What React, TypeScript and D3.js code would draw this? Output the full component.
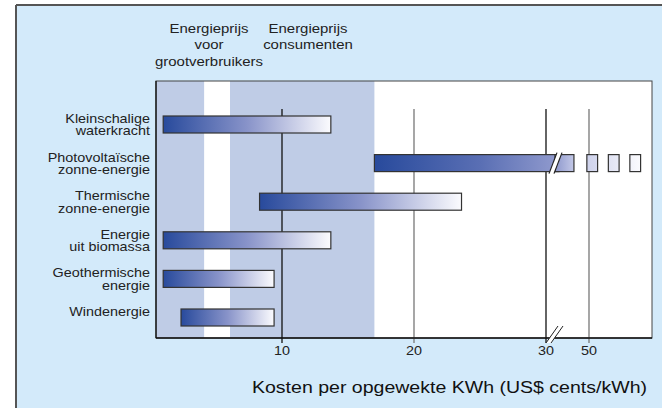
import React from "react";
import * as d3 from "d3";

const labelLines: string[][] = [
  ["Kleinschalige", "waterkracht"],
  ["Photovoltaïsche", "zonne-energie"],
  ["Thermische", "zonne-energie"],
  ["Energie", "uit biomassa"],
  ["Geothermische", "energie"],
  ["Windenergie"],
];
const categories = labelLines.map((l) => l.join(" "));
const minCost = [1, 17, 8.3, 1, 1, 2.35];
const maxCost = [13.7, 30, 23.6, 13.7, 9.4, 9.4];
// photovoltaic continues beyond the axis break
const pvAfterBreakEnd = 43;
const pvDashStart = [49, 59, 69];
const pvDashEnd = [54, 64, 74];

const bandStart = [0, 6.06];
const bandEnd = [4.1, 17];
const bandHeaders: string[][] = [
  ["Energieprijs", "voor", "grootverbruikers"],
  ["Energieprijs", "consumenten"],
];
const headerCenters = [209, 308];

const gridTicks = [10, 20, 30, 50];
const gridDark = [true, false, true, false];
const axisTitle = "Kosten per opgewekte KWh (US$ cents/kWh)";

const W = 662;
const H = 408;
const plotL = 156;
const plotR = 652;
const plotT = 81;
const plotB = 338;
const FONT = "'Liberation Sans', Arial, Helvetica, sans-serif";
const SX = 1.15;

export default function App() {
  const x = d3.scaleLinear().domain([0, 30, 50]).range([150, 546, 589]);
  const y = d3.scalePoint<string>().domain(categories).range([124.5, 317.5]);
  const barH = 17;
  const pvIdx = 1;
  const pvY = y(categories[pvIdx])!;
  const breakX = x(30) + 9;

  return (
    <svg width={W} height={H} style={{ position: "absolute", left: 0, top: 0 }}>
      <defs>
        <linearGradient id="barGrad" x1="0" x2="1" y1="0" y2="0">
          <stop offset="0" stopColor="#284a9c" />
          <stop offset="0.5" stopColor="#8893c9" />
          <stop offset="1" stopColor="#fbfbfe" />
        </linearGradient>
        <linearGradient
          id="pvGrad"
          gradientUnits="userSpaceOnUse"
          x1={x(minCost[pvIdx])}
          x2={x(pvDashEnd[2])}
          y1="0"
          y2="0"
        >
          <stop offset="0" stopColor="#284a9c" />
          <stop offset="0.4" stopColor="#5a6fb4" />
          <stop offset="0.68" stopColor="#8f99cd" />
          <stop offset="0.75" stopColor="#c3c8e7" />
          <stop offset="1" stopColor="#fbfbfe" />
        </linearGradient>
        <clipPath id="plotClip">
          <rect x={plotL} y={plotT} width={plotR - plotL} height={plotB - plotT} />
        </clipPath>
      </defs>
      {/* outer frame */}
      <rect x={16} y={5} width={W} height={H} fill="#d3eafa" />
      <line x1={16} y1={5} x2={W} y2={5} stroke="#555" strokeWidth={2} />
      <line x1={16} y1={5} x2={16} y2={H} stroke="#555" strokeWidth={2} />

      {/* plot area */}
      <rect x={plotL} y={plotT} width={plotR - plotL} height={plotB - plotT} fill="#fff" />
      <g clipPath="url(#plotClip)">
        {bandStart.map((s, i) => (
          <rect
            key={i}
            x={Math.max(x(s), plotL)}
            y={plotT}
            width={x(bandEnd[i]) - Math.max(x(s), plotL)}
            height={plotB - plotT}
            fill="#bfcce6"
          />
        ))}
      </g>
      <rect
        x={plotL}
        y={plotT}
        width={plotR - plotL}
        height={plotB - plotT}
        fill="none"
        stroke="#444"
        strokeWidth={1}
      />

      {/* grid lines */}
      {gridTicks.map((t, i) => (
        <line
          key={t}
          x1={x(t)}
          x2={x(t)}
          y1={109}
          y2={plotB + 5}
          stroke={gridDark[i] ? "#111" : "#777"}
          strokeWidth={1.3}
        />
      ))}
      {/* axis lines */}
      <line x1={plotL} x2={plotR} y1={plotB} y2={plotB} stroke="#111" strokeWidth={1.5} />
      <line x1={plotL} x2={plotL} y1={plotT} y2={plotB} stroke="#111" strokeWidth={1.3} />

      {/* bars */}
      {categories.map((c, i) => {
        const cy = y(c)!;
        if (i === pvIdx) {
          return (
            <g key={c}>
              <rect
                x={x(minCost[i])}
                y={cy - barH / 2}
                width={breakX + 4 - x(minCost[i])}
                height={barH}
                fill="url(#pvGrad)"
                stroke="#333"
                strokeWidth={1.2}
              />
              <rect
                x={breakX}
                y={cy - barH / 2}
                width={x(pvAfterBreakEnd) - breakX}
                height={barH}
                fill="url(#pvGrad)"
                stroke="#333"
                strokeWidth={1.2}
              />
              {pvDashStart.map((s, j) => (
                <rect
                  key={j}
                  x={x(s)}
                  y={cy - barH / 2}
                  width={x(pvDashEnd[j]) - x(s)}
                  height={barH}
                  fill="url(#pvGrad)"
                  stroke="#333"
                  strokeWidth={1.2}
                />
              ))}
            </g>
          );
        }
        return (
          <rect
            key={c}
            x={x(minCost[i])}
            y={cy - barH / 2}
            width={x(maxCost[i]) - x(minCost[i])}
            height={barH}
            fill="url(#barGrad)"
            stroke="#333"
            strokeWidth={1.2}
          />
        );
      })}
      {/* bar break */}
      <polygon
        points={`${breakX - 6},${pvY + barH / 2 + 2} ${breakX + 2},${pvY - barH / 2 - 2} ${breakX + 7},${pvY - barH / 2 - 2} ${breakX - 1},${pvY + barH / 2 + 2}`}
        fill="#fff"
      />
      <line x1={breakX - 6} y1={pvY + barH / 2 + 2} x2={breakX + 2} y2={pvY - barH / 2 - 2} stroke="#222" strokeWidth={1.2} />
      <line x1={breakX - 1} y1={pvY + barH / 2 + 2} x2={breakX + 7} y2={pvY - barH / 2 - 2} stroke="#222" strokeWidth={1.2} />
      {/* axis break */}
      <polygon
        points={`${x(30)},${plotB + 5} ${x(30) + 12},${plotB - 12} ${x(30) + 17},${plotB - 12} ${x(30) + 5},${plotB + 5}`}
        fill="#fff"
      />
      <line x1={x(30)} y1={plotB + 5} x2={x(30) + 12} y2={plotB - 12} stroke="#222" strokeWidth={1} />
      <line x1={x(30) + 5} y1={plotB + 5} x2={x(30) + 17} y2={plotB - 12} stroke="#222" strokeWidth={1} />

      {/* tick labels */}
      {gridTicks.map((t) => (
        <g key={t} transform={`translate(${x(t)},${355}) scale(${SX},1)`}>
          <text textAnchor="middle" fontFamily={FONT} fontSize={12.5} fill="#222">
            {t}
          </text>
        </g>
      ))}

      {/* category labels */}
      {categories.map((c, i) => {
        const cy = y(c)!;
        return (
          <g key={c} transform={`translate(150,${cy - 1.5}) scale(${SX},1)`}>
            {labelLines[i].map((ln, j) => (
              <text key={j} y={j * 12.5} textAnchor="end" fontFamily={FONT} fontSize={12.5} fill="#222">
                {ln}
              </text>
            ))}
          </g>
        );
      })}

      {/* band headers */}
      {bandHeaders.map((lines, i) => (
        <g key={i} transform={`translate(${headerCenters[i]},33) scale(${SX},1)`}>
          {lines.map((ln, j) => (
            <text key={j} y={j * 16.3} textAnchor="middle" fontFamily={FONT} fontSize={13} fill="#222">
              {ln}
            </text>
          ))}
        </g>
      ))}

      {/* axis title */}
      <g transform={`translate(647,393) scale(${SX},1)`}>
        <text textAnchor="end" fontFamily={FONT} fontSize={17} fill="#111">
          {axisTitle}
        </text>
      </g>
    </svg>
  );
}
